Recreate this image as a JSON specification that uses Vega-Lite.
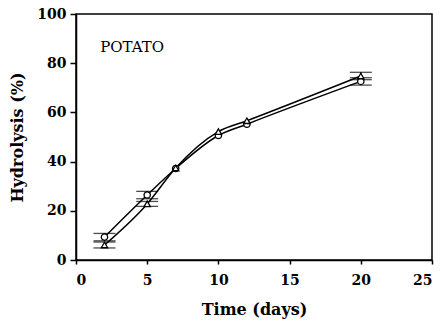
{
  "$schema": "https://vega.github.io/schema/vega-lite/v6.json",
  "autosize": {"type": "none"},
  "width": 356,
  "height": 246,
  "padding": {"left": 76, "top": 14, "right": 10, "bottom": 63},
  "background": "white",
  "config": {
    "view": {"stroke": "black", "strokeWidth": 1.5},
    "font": "DejaVu Serif",
    "axis": {
      "domainColor": "black", "domainWidth": 1.5, "tickColor": "black", "tickWidth": 1.5,
      "labelColor": "black", "titleColor": "black", "grid": false,
      "labelFont": "DejaVu Serif", "labelFontWeight": "bold", "labelFontSize": 14,
      "titleFont": "DejaVu Serif", "titleFontWeight": "bold", "titleFontSize": 16
    }
  },
  "datasets": {
    "series": [
      {"time": 2, "hyd": 9.3, "lo": 7.8, "hi": 10.8, "sample": "circle"},
      {"time": 5, "hyd": 26.4, "lo": 24.9, "hi": 27.9, "sample": "circle"},
      {"time": 7, "hyd": 37.2, "lo": 37.2, "hi": 37.2, "sample": "circle"},
      {"time": 10, "hyd": 50.6, "lo": 50.6, "hi": 50.6, "sample": "circle"},
      {"time": 12, "hyd": 55.2, "lo": 55.2, "hi": 55.2, "sample": "circle"},
      {"time": 20, "hyd": 72.6, "lo": 71.1, "hi": 74.1, "sample": "circle"},
      {"time": 2, "hyd": 6.1, "lo": 4.9, "hi": 7.3, "sample": "triangle"},
      {"time": 5, "hyd": 22.8, "lo": 21.8, "hi": 23.8, "sample": "triangle"},
      {"time": 7, "hyd": 37.4, "lo": 37.4, "hi": 37.4, "sample": "triangle"},
      {"time": 10, "hyd": 52.2, "lo": 52.2, "hi": 52.2, "sample": "triangle"},
      {"time": 12, "hyd": 56.6, "lo": 56.6, "hi": 56.6, "sample": "triangle"},
      {"time": 20, "hyd": 74.8, "lo": 73.3, "hi": 76.3, "sample": "triangle"}
    ],
    "label": [{"time": 1.7, "hyd": 86.5, "text": "POTATO"}]
  },
  "layer": [
    {
      "data": {"name": "series"},
      "mark": {"type": "line", "color": "black", "strokeWidth": 1.5, "interpolate": "monotone"},
      "encoding": {
        "x": {"field": "time", "type": "quantitative", "scale": {"domain": [0, 25], "nice": false},
              "axis": {"values": [0, 5, 10, 15, 20, 25], "tickSize": 4, "labelPadding": 9, "title": "Time (days)", "titlePadding": 14}},
        "y": {"field": "hyd", "type": "quantitative", "scale": {"domain": [0, 100], "nice": false},
              "axis": {"values": [0, 20, 40, 60, 80, 100], "tickSize": 6, "labelPadding": 4, "title": "Hydrolysis (%)", "titlePadding": 11}},
        "detail": {"field": "sample"}
      }
    },
    {
      "data": {"name": "series"},
      "mark": {"type": "rule", "color": "black", "strokeWidth": 1.2},
      "encoding": {
        "x": {"field": "time", "type": "quantitative"},
        "y": {"field": "lo", "type": "quantitative"},
        "y2": {"field": "hi"}
      }
    },
    {
      "data": {"name": "series"},
      "transform": [{"filter": "datum.hi > datum.lo"}],
      "mark": {"type": "tick", "orient": "horizontal", "color": "black", "size": 22, "thickness": 1.3},
      "encoding": {
        "x": {"field": "time", "type": "quantitative"},
        "y": {"field": "lo", "type": "quantitative"}
      }
    },
    {
      "data": {"name": "series"},
      "transform": [{"filter": "datum.hi > datum.lo"}],
      "mark": {"type": "tick", "orient": "horizontal", "color": "black", "size": 22, "thickness": 1.3},
      "encoding": {
        "x": {"field": "time", "type": "quantitative"},
        "y": {"field": "hi", "type": "quantitative"}
      }
    },
    {
      "data": {"name": "series"},
      "mark": {"type": "point", "filled": true, "fill": "white", "stroke": "black", "strokeWidth": 1.3, "size": 40, "opacity": 1},
      "encoding": {
        "x": {"field": "time", "type": "quantitative"},
        "y": {"field": "hyd", "type": "quantitative"},
        "shape": {"field": "sample", "type": "nominal", "scale": {"domain": ["circle", "triangle"], "range": ["circle", "triangle-up"]}, "legend": null}
      }
    },
    {
      "data": {"name": "label"},
      "mark": {"type": "text", "align": "left", "baseline": "middle", "font": "DejaVu Serif", "fontSize": 15, "color": "black"},
      "encoding": {
        "x": {"field": "time", "type": "quantitative"},
        "y": {"field": "hyd", "type": "quantitative"},
        "text": {"field": "text"}
      }
    }
  ]
}
